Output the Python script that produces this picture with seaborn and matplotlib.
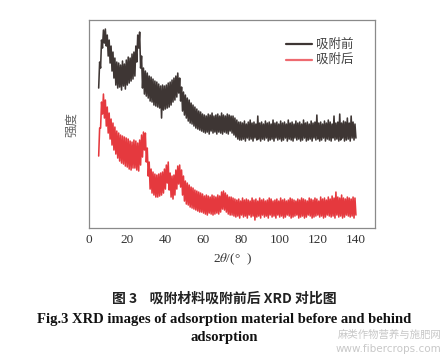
import numpy as np
import pandas as pd
import matplotlib
matplotlib.use("Agg")
import matplotlib.pyplot as plt
import seaborn as sns

# XRD intensity (arb. units), sampled every 0.5 deg from 5 to 140
before_counts = [
    140, 166, 160, 188, 180, 198, 185, 199, 182, 193,
    172, 188, 165, 182, 157, 176, 150, 170, 143, 166,
    140, 165, 141, 163, 138, 167, 142, 164, 139, 168,
    143, 171, 145, 170, 147, 174, 149, 176, 152, 182,
    166, 193, 180, 196, 160, 172, 140, 160, 134, 157,
    132, 155, 130, 152, 127, 151, 126, 149, 123, 147,
    122, 146, 121, 144, 120, 142, 110, 143, 118, 142,
    119, 143, 120, 145, 121, 146, 123, 148, 126, 150,
    128, 152, 131, 155, 135, 150, 127, 141, 117, 136,
    113, 133, 110, 130, 107, 128, 105, 125, 104, 123,
    102, 121, 100, 119, 99, 117, 98, 116, 97, 114,
    96, 113, 95, 112, 96, 114, 94, 113, 97, 115,
    95, 112, 96, 113, 94, 114, 96, 112, 95, 115,
    94, 113, 96, 112, 95, 114, 94, 113, 97, 112,
    95, 112, 93, 110, 91, 108, 89, 106, 88, 106,
    88, 105, 89, 107, 87, 104, 90, 106, 88, 108,
    89, 105, 87, 106, 90, 104, 88, 112, 89, 105,
    87, 106, 89, 104, 88, 107, 90, 105, 87, 106,
    88, 104, 89, 108, 87, 105, 90, 106, 88, 104,
    89, 107, 87, 105, 88, 106, 90, 104, 87, 108,
    89, 105, 88, 106, 87, 104, 90, 107, 88, 105,
    89, 106, 87, 104, 88, 108, 90, 105, 87, 106,
    88, 104, 89, 107, 87, 105, 90, 106, 88, 113,
    89, 105, 87, 106, 88, 104, 90, 107, 87, 105,
    89, 108, 88, 106, 87, 104, 90, 112, 88, 105,
    89, 106, 87, 114, 88, 105, 90, 107, 87, 106,
    88, 110, 89, 105, 87, 112, 90, 106, 88, 104,
    90,
]

after_counts = [
    72, 100, 100, 126, 114, 134, 110, 128, 102, 121,
    95, 115, 89, 109, 83, 105, 78, 101, 74, 97,
    70, 95, 67, 93, 65, 92, 64, 91, 62, 90,
    61, 89, 59, 87, 58, 86, 60, 88, 60, 87,
    58, 85, 57, 88, 63, 93, 71, 96, 78, 95,
    66, 80, 52, 66, 39, 59, 35, 56, 33, 54,
    31, 53, 31, 54, 32, 55, 33, 56, 35, 59,
    39, 63, 45, 66, 38, 55, 31, 52, 29, 53,
    33, 58, 39, 62, 44, 63, 41, 58, 33, 52,
    27, 47, 24, 45, 23, 43, 21, 41, 20, 40,
    19, 38, 18, 37, 17, 36, 16, 35, 16, 34,
    15, 32, 14, 33, 13, 32, 15, 31, 14, 33,
    13, 32, 14, 31, 15, 33, 14, 32, 16, 36,
    19, 37, 18, 35, 16, 33, 14, 31, 13, 31,
    13, 30, 12, 29,
    11, 28, 12, 29, 10, 27, 13, 30, 11, 28,
    12, 29, 10, 28, 13, 27, 11, 30, 12, 28,
    8, 29, 11, 27, 12, 30, 10, 28, 13, 29,
    11, 27, 12, 28, 10, 30, 13, 29, 11, 27,
    12, 28, 10, 29, 13, 27, 11, 30, 12, 28,
    10, 29, 11, 27, 13, 28, 12, 30, 10, 29,
    11, 28, 12, 27, 13, 29, 10, 28, 11, 30,
    12, 29, 10, 28, 11, 27, 13, 30, 12, 29,
    10, 28, 11, 30, 12, 29, 13, 27, 11, 31,
    12, 29, 10, 30, 11, 28, 13, 31, 12, 29,
    11, 32, 12, 30, 10, 36, 13, 31, 11, 30,
    12, 33, 10, 30, 11, 29, 13, 31, 12, 30,
    11, 29, 12, 31, 10, 30, 13,
]

two_theta_start, two_theta_end = 5, 140
x_ticks = [0, 20, 40, 60, 80, 100, 120, 140]
series_names = ["吸附前", "吸附后"]

sns.set_style("white")
plt.rcParams["font.family"] = ["Liberation Serif", "Noto Sans CJK SC", "DejaVu Sans"]
plt.rcParams["mathtext.fontset"] = "stix"

df = pd.concat([
    pd.DataFrame({
        "two_theta": np.linspace(two_theta_start, two_theta_end, len(before_counts)),
        "intensity": before_counts,
        "sample": series_names[0],
    }),
    pd.DataFrame({
        "two_theta": np.linspace(two_theta_start, two_theta_end, len(after_counts)),
        "intensity": after_counts,
        "sample": series_names[1],
    }),
])

fig = plt.figure(figsize=(4.48, 3.58), dpi=100)
ax = fig.add_axes([0.199, 0.363, 0.638, 0.581])

sns.lineplot(
    data=df, x="two_theta", y="intensity", hue="sample",
    palette={series_names[0]: "#3e3634", series_names[1]: "#e5393e"},
    estimator=None, sort=False, linewidth=1.15, ax=ax, legend=False,
)

ax.set_xlim(0, 150)
ax.set_ylim(0, 208)
ax.set_xticks(x_ticks)
ax.set_xticklabels([str(t) for t in x_ticks])
ax.set_yticks([])
ax.tick_params(axis="x", direction="in", length=3, width=0.8, color="#777777",
               labelsize=9.5, labelcolor="#333333", pad=4)
for sp in ax.spines.values():
    sp.set_color("#8a8a8a")
    sp.set_linewidth(0.9)

ax.set_xlabel("2$\\theta$/(°  )", fontsize=9.5, color="#333333", labelpad=4)
ax.set_ylabel("强度", fontsize=9, color="#666666", family=["Noto Sans CJK SC"],
              labelpad=8)

# legend drawn by hand to match the short swatches
leg_colors = ["#3e3634", "#ee6a70"]
for i, (name, col) in enumerate(zip(series_names, leg_colors)):
    yy = 0.885 - i * 0.075
    ax.plot([0.69, 0.78], [yy, yy], transform=ax.transAxes, color=col, lw=1.6)
    ax.text(0.795, yy, name, transform=ax.transAxes, va="center", ha="left",
            fontsize=9, color="#444444", family=["Noto Sans CJK SC"])

fig.text(0.5, 0.167, "图 3    吸附材料吸附前后 XRD 对比图", ha="center", va="center",
         fontsize=10, color="#222222", family=["Noto Sans CJK SC"], weight="bold")
fig.text(0.5, 0.107, "Fig.3 XRD images of adsorption material before and behind",
         ha="center", va="center", fontsize=10.5, weight="bold", color="#111111")
fig.text(0.5, 0.058, "adsorption", ha="center", va="center", fontsize=10.5,
         weight="bold", color="#111111")

fig.text(0.985, 0.065, "麻类作物营养与施肥网", ha="right", va="center", fontsize=7.5,
         color="#c8c8c8", family=["Noto Sans CJK SC"])
fig.text(0.985, 0.025, "www.fibercrops.com", ha="right", va="center", fontsize=7.5,
         color="#c8c8c8", family=["DejaVu Sans"])

fig.savefig("out.png", dpi=100)
